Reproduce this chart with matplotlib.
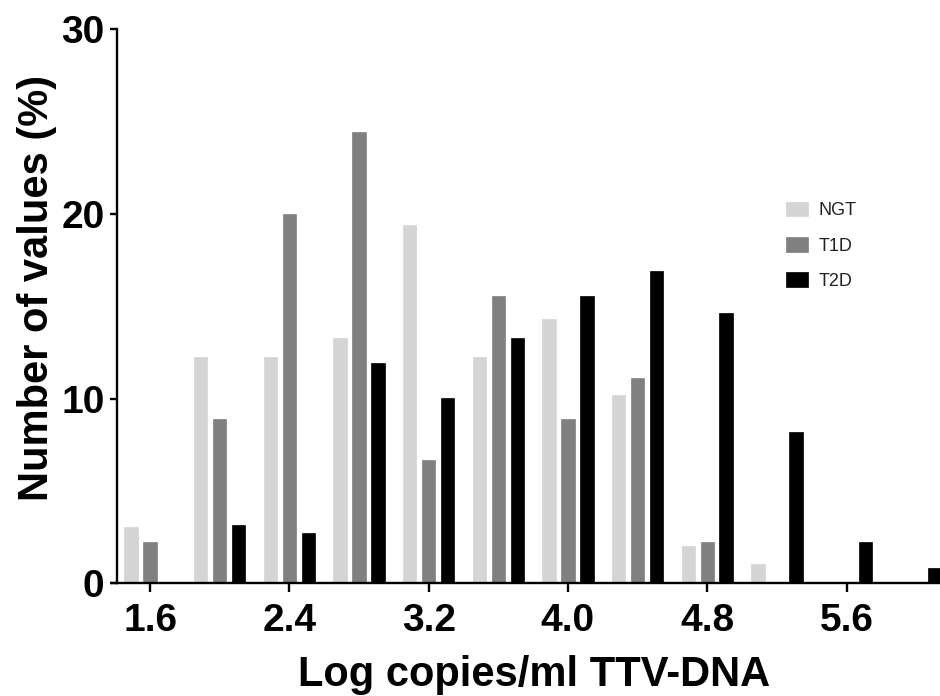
import matplotlib
matplotlib.use('Agg')
import matplotlib.pyplot as plt
import numpy as np

plt.rcParams['font.family'] = ['Liberation Sans', 'DejaVu Sans']

# Bin centres (log copies/ml) and percentage of values per group
BINS = [1.6, 2.0, 2.4, 2.8, 3.2, 3.6, 4.0, 4.4, 4.8, 5.2, 5.6, 6.0]
NGT = [3.06, 12.24, 12.24, 13.27, 19.39, 12.24, 14.29, 10.20, 2.04, 1.02, 0, 0]
T1D = [2.22, 8.89, 20.0, 24.44, 6.67, 15.56, 8.89, 11.11, 2.22, 0, 0, 0]
T2D = [0, 3.17, 2.72, 11.91, 10.05, 13.26, 15.57, 16.93, 14.65, 8.21, 2.25, 0.85]
GROUPS = ['NGT', 'T1D', 'T2D']
COLORS = ['#d4d4d4', '#808080', '#000000']
XTICKS = [1.6, 2.4, 3.2, 4.0, 4.8, 5.6]
YTICKS = [0, 10, 20, 30]

fig = plt.figure(figsize=(9.4, 6.96), dpi=100)
ax = fig.add_axes([117/940, 112.7/696, 823/940, 554/696])

x = np.array(BINS)
offset = 0.109
width = 0.077
for i, (vals, name, col) in enumerate(zip([NGT, T1D, T2D], GROUPS, COLORS)):
    ax.bar(x + (i - 1) * offset, vals, width=width, color=col,
           edgecolor=col, linewidth=0.5, label=name, zorder=2)

ax.set_xlim(1.41, 6.137)
ax.set_ylim(0, 30)
ax.set_xticks(XTICKS)
ax.set_xticklabels([f'{t:.1f}' for t in XTICKS])
ax.set_yticks(YTICKS)

for s in ('top', 'right'):
    ax.spines[s].set_visible(False)
for s in ('left', 'bottom'):
    ax.spines[s].set_linewidth(1.7)
ax.tick_params(axis='x', width=1.7, length=6.5, labelsize=28, pad=8)
ax.tick_params(axis='y', width=1.7, length=5, labelsize=28, pad=4)
for lab in ax.get_xticklabels() + ax.get_yticklabels():
    lab.set_fontweight('bold')
# x axis line runs a little past the y axis, as in the original
ax.plot([-7/823, 0], [0, 0], transform=ax.transAxes, clip_on=False,
        color='black', lw=1.7, solid_capstyle='butt')

ax.set_xlabel('Log copies/ml TTV-DNA', fontsize=30, fontweight='bold', labelpad=11)
ax.xaxis.label.set_x(0.507)
ax.set_ylabel('Number of values (%)', fontsize=30, fontweight='bold', labelpad=3)
ax.yaxis.label.set_y(0.533)

leg = ax.legend(loc='upper left', bbox_to_anchor=(786/940, (696 - 202)/696),
                bbox_transform=fig.transFigure, frameon=False, fontsize=13,
                handlelength=1.2, handleheight=0.85, handletextpad=0.6,
                labelspacing=0.98, borderpad=0, borderaxespad=0)
for t in leg.get_texts():
    t.set_color('#222222')

fig.savefig('out.png', dpi=100)
